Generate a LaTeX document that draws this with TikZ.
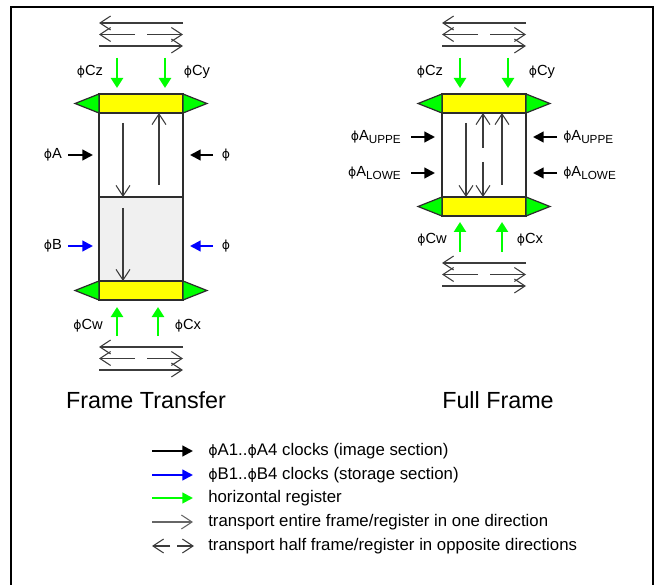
\documentclass[tikz,border=0pt]{standalone}
\usepackage{fontspec}
\setmainfont{Liberation Sans}
\newfontfamily\phifont{DejaVu Sans}
\usetikzlibrary{arrows.meta}
\definecolor{lgreen}{RGB}{0,255,0}
\definecolor{lblue}{RGB}{0,0,255}
\definecolor{lyellow}{RGB}{255,255,0}
\definecolor{lgrey}{RGB}{240,240,240}
\definecolor{edge}{RGB}{45,45,45}
\definecolor{xgrey}{RGB}{60,60,60}
\newcommand{\ph}{{\phifont\scalebox{0.85}{ϕ}}}
\newcommand{\subsc}[1]{\raisebox{-2pt}{\fontsize{8.8}{9}\selectfont #1}}
\newcommand{\xportgrp}[2]{% #1 = left x, #2 = top row y
  \draw[xfer] ({#1+84},#2) -- (#1,#2);
  \draw[xfer] ({#1+36},{#2+11.5}) -- (#1,{#2+11.5});
  \draw[xfer] ({#1+48},{#2+11.5}) -- ({#1+84},{#2+11.5});
  \draw[xfer] (#1,{#2+23}) -- ({#1+84},{#2+23});
}
\begin{document}
\begin{tikzpicture}[x=0.75pt,y=-0.75pt,
  sect/.style={draw=edge,line width=0.9pt,minimum width=63pt,minimum height=63pt,inner sep=0pt,outer sep=0pt},
  regbar/.style={draw=edge,line width=0.9pt,fill=lyellow,minimum width=63pt,minimum height=14.25pt,inner sep=0pt,outer sep=0pt},
  wing/.style={draw=edge,line width=0.9pt,fill=lgreen},
  xfer/.style={draw=xgrey,line width=0.8pt,-{Straight Barb[length=8pt,width=10.5pt]}},
  clk/.style={line width=1.6pt,-{Triangle[length=8pt,width=8pt]}},
  hreg/.style={draw=lgreen,fill=lgreen,line width=1.8pt,-{Triangle[length=7.5pt,width=9pt]}},
  lbl/.style={font=\fontsize{11}{12}\selectfont,inner sep=0pt},
  ttl/.style={font=\fontsize{17.5}{19}\selectfont,inner sep=0pt},
  leg/.style={font=\fontsize{12.6}{14}\selectfont,inner sep=0pt,anchor=west}
]
\useasboundingbox (0,0) rectangle (658,585);
% outer frame
\draw[line width=1.5pt] (11,585) -- (11,7) -- (653,7) -- (653,585);

% ===== Frame Transfer =====
\node[sect] (ftImg) at (141,155) {};
\node[sect,fill=lgrey] (ftSto) at (141,239) {};
\node[regbar] (ftTop) at (141,103.5) {};
\node[regbar] (ftBot) at (141,290.5) {};
\foreach \b in {ftTop,ftBot}{
  \filldraw[wing] (\b.north west) -- ([xshift=-18pt]\b.west) -- (\b.south west) -- cycle;
  \filldraw[wing] (\b.north east) -- ([xshift=18pt]\b.east) -- (\b.south east) -- cycle;
}
\xportgrp{99}{23}
\xportgrp{99}{347}
% transfers inside
\draw[xfer] (123,123) -- (123,197);
\draw[xfer] (159,185) -- (159,113);
\draw[xfer] (123,208) -- (123,281);
% horizontal register clocks
\draw[hreg] (117,58) -- (117,88);
\draw[hreg] (165,58) -- (165,88);
\draw[hreg] (117,336) -- (117,307);
\draw[hreg] (158,336) -- (158,307);
\node[lbl] (ftCz) at (90,72) {\ph Cz};
\node[lbl] (ftCy) at (197,72) {\ph Cy};
\node[lbl] (ftCw) at (88,326) {\ph Cw};
\node[lbl] (ftCx) at (188,326) {\ph Cx};
% image / storage clocks
\node[lbl] (ftA) at (53,155) {\ph A};
\node[lbl] (ftA2) at (226,155) {\ph};
\node[lbl] (ftB) at (53,246) {\ph B};
\node[lbl] (ftB2) at (226,246) {\ph};
\draw[clk] (68,155) -- (93,155);
\draw[clk] (213,155) -- (190,155);
\draw[clk,draw=lblue,fill=lblue] (68,246) -- (93,246);
\draw[clk,draw=lblue,fill=lblue] (213,246) -- (190,246);
\node[ttl] (ftT) at (146,400) {Frame Transfer};

% ===== Full Frame =====
\node[sect] (ffImg) at (484,155) {};
\node[regbar] (ffTop) at (484,103.5) {};
\node[regbar] (ffBot) at (484,206.5) {};
\foreach \b in {ffTop,ffBot}{
  \filldraw[wing] (\b.north west) -- ([xshift=-18pt]\b.west) -- (\b.south west) -- cycle;
  \filldraw[wing] (\b.north east) -- ([xshift=18pt]\b.east) -- (\b.south east) -- cycle;
}
\xportgrp{442}{23}
\xportgrp{442}{263}
\draw[xfer] (466,123) -- (466,197);
\draw[xfer] (483,148) -- (483,113);
\draw[xfer] (483,162) -- (483,197);
\draw[xfer] (502,185) -- (502,113);
\draw[hreg] (460,58) -- (460,88);
\draw[hreg] (508,58) -- (508,88);
\draw[hreg] (460,252) -- (460,222);
\draw[hreg] (502,252) -- (502,222);
\node[lbl] (ffCz) at (430,72) {\ph Cz};
\node[lbl] (ffCy) at (542,72) {\ph Cy};
\node[lbl] (ffCw) at (432,240) {\ph Cw};
\node[lbl] (ffCx) at (530,240) {\ph Cx};
\node[lbl,anchor=base east] (ffAu) at (401,141) {\ph A\subsc{UPPE}};
\node[lbl,anchor=base west] (ffAu2) at (563,141) {\ph A\subsc{UPPE}};
\node[lbl,anchor=base east] (ffAl) at (401,177) {\ph A\subsc{LOWE}};
\node[lbl,anchor=base west] (ffAl2) at (563,177) {\ph A\subsc{LOWE}};
\draw[clk] (411,137) -- (435,137);
\draw[clk] (557,137) -- (533,137);
\draw[clk] (411,173) -- (435,173);
\draw[clk] (557,173) -- (533,173);
\node[ttl] (ffT) at (498,400) {Full Frame};

% ===== Legend =====
\draw[clk] (152,451) -- (193,451);
\draw[clk,draw=lblue,fill=lblue] (152,475) -- (193,475);
\draw[clk,draw=lgreen,fill=lgreen] (152,498) -- (193,498);
\draw[xfer,draw=black!60] (152,522) -- (193,522);
\draw[xfer] (170,546) -- (152,546);
\draw[xfer] (177,546) -- (194,546);
\node[leg] (l1) at (208,451) {\ph A1..\ph A4 clocks (image section)};
\node[leg] (l2) at (208,475) {\ph B1..\ph B4 clocks (storage section)};
\node[leg] (l3) at (208,498) {horizontal register};
\node[leg] (l4) at (208,522) {transport entire frame/register in one direction};
\node[leg] (l5) at (208,546) {transport half frame/register in opposite directions};
\end{tikzpicture}
\end{document}
